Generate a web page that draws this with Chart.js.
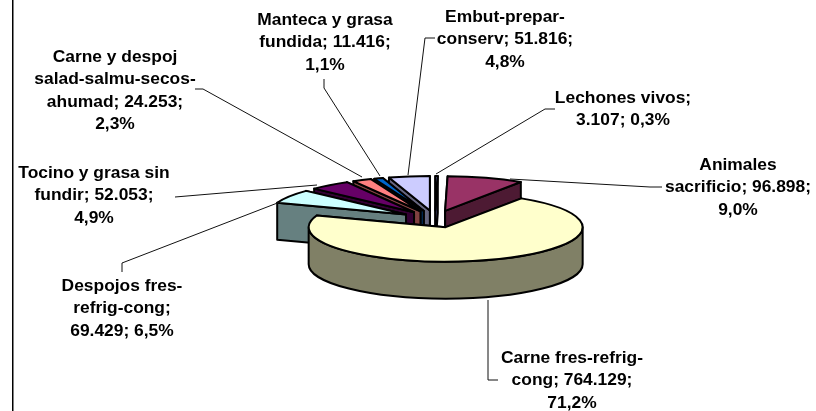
<!DOCTYPE html>
<html>
<head>
<meta charset="utf-8">
<title>Chart</title>
<script src="https://cdn.jsdelivr.net/npm/chart.js@4"></script>
<style>
html, body { margin: 0; padding: 0; background: #fff; overflow: hidden; }
canvas { display: block; }
</style>
</head>
<body>
<canvas id="pie3d" width="816" height="411"></canvas>
<script>
var categories = ['Lechones vivos', 'Animales sacrificio', 'Carne fres-refrig-cong', 'Despojos fres-refrig-cong',
	'Tocino y grasa sin fundir', 'Carne y despoj salad-salmu-secos-ahumad', 'Manteca y grasa fundida', 'Embut-prepar-conserv'];
var values = [3107, 96898, 764129, 69429, 52053, 24253, 11416, 51816];
var topColors = ['#9999FF', '#993366', '#FFFFCC', '#CCFFFF', '#660066', '#FF8080', '#0066CC', '#CCCCFF'];
var wallColors = ['#4D4D80', '#4D1A33', '#808066', '#668080', '#330033', '#804040', '#003366', '#666680'];

// wrapped text of each label, same order as categories
var labelLines = [
	['Lechones vivos;', '3.107; 0,3%'],
	['Animales', 'sacrificio; 96.898;', '9,0%'],
	['Carne fres-refrig-', 'cong; 764.129;', '71,2%'],
	['Despojos fres-', 'refrig-cong;', '69.429; 6,5%'],
	['Tocino y grasa sin', 'fundir; 52.053;', '4,9%'],
	['Carne y despoj', 'salad-salmu-secos-', 'ahumad; 24.253;', '2,3%'],
	['Manteca y grasa', 'fundida; 11.416;', '1,1%'],
	['Embut-prepar-', 'conserv; 51.816;', '4,8%']
];
var labelCenterX = [623, 738, 572, 122, 94, 115, 325, 505];
var labelFirstY = [98, 165, 358, 286, 173, 57, 20, 17];
var leaders = [
	[[555, 109], [545, 109], [436, 174]],
	[[662, 187], [650, 187], [510, 179]],
	[[498, 380], [488, 380], [488, 300]],
	[[122, 272], [122, 263], [280, 202]],
	[[175, 197], [317, 185]],
	[[195, 89], [203, 89], [362, 177]],
	[[324, 79], [324, 88], [380, 176]],
	[[435, 38], [425, 38], [408, 175]]
];

var squash = 0.252;
var depth = 37;
var explode = 34;
var lineHeight = 22.4;
var paintOrder = [7, 6, 5, 4, 3, 1, 0, 2];

function edgePoint(cx, cy, r, a)
{
	return [cx + Math.cos(a) * r, cy + Math.sin(a) * r * squash];
}

function sliceCentre(arc)
{
	var mid = (arc.startAngle + arc.endAngle) / 2;
	return [arc.x + Math.cos(mid) * explode, arc.y + Math.sin(mid) * explode * squash];
}

function radialWall(ctx, c, r, a, wall)
{
	var p = edgePoint(c[0], c[1], r, a);
	ctx.beginPath();
	ctx.moveTo(c[0], c[1]);
	ctx.lineTo(p[0], p[1]);
	ctx.lineTo(p[0], p[1] + depth);
	ctx.lineTo(c[0], c[1] + depth);
	ctx.closePath();
	ctx.fillStyle = wall;
	ctx.fill();
	ctx.stroke();
}

function frontWall(ctx, c, r, a0, a1, wall)
{
	// the outer wall only shows where the rim faces the viewer (0..PI on the canvas)
	for (var k = -1; k <= 1; k++) {
		var from = Math.max(a0, k * 2 * Math.PI);
		var to = Math.min(a1, k * 2 * Math.PI + Math.PI);
		if (to <= from) continue;
		ctx.beginPath();
		ctx.ellipse(c[0], c[1], r, r * squash, 0, from, to);
		ctx.ellipse(c[0], c[1] + depth, r, r * squash, 0, to, from, true);
		ctx.closePath();
		ctx.fillStyle = wall;
		ctx.fill();
		ctx.stroke();
	}
}

var pie3d = {
	id: 'pie3d',
	beforeDatasetsDraw: function(chart) {
		var ctx = chart.ctx;
		var arcs = chart.getDatasetMeta(0).data;
		ctx.lineWidth = 2;
		ctx.strokeStyle = '#000';
		ctx.lineJoin = 'round';
		paintOrder.forEach(function(i) {
			var arc = arcs[i];
			var c = sliceCentre(arc);
			var r = arc.outerRadius;
			var first = Math.sin(arc.startAngle) < Math.sin(arc.endAngle) ? arc.startAngle : arc.endAngle;
			var second = first === arc.startAngle ? arc.endAngle : arc.startAngle;
			radialWall(ctx, c, r, first, wallColors[i]);
			radialWall(ctx, c, r, second, wallColors[i]);
			frontWall(ctx, c, r, arc.startAngle, arc.endAngle, wallColors[i]);

			// top face comes from the library's own arc, flattened and pulled out
			ctx.save();
			ctx.translate(c[0] - arc.x, c[1]);
			ctx.scale(1, squash);
			ctx.translate(0, -arc.y);
			arc.draw(ctx);
			ctx.restore();

			ctx.beginPath();
			ctx.moveTo(c[0], c[1]);
			ctx.ellipse(c[0], c[1], r, r * squash, 0, arc.startAngle, arc.endAngle);
			ctx.closePath();
			ctx.stroke();
		});
		return false;
	},
	afterDraw: function(chart) {
		var ctx = chart.ctx;
		ctx.save();
		ctx.fillStyle = '#000';
		ctx.fillRect(12, 0, 1.5, 411);

		ctx.strokeStyle = '#111';
		ctx.lineWidth = 1;
		leaders.forEach(function(path) {
			ctx.beginPath();
			path.forEach(function(p, j) {
				if (j === 0) ctx.moveTo(p[0], p[1]);
				else ctx.lineTo(p[0], p[1]);
			});
			ctx.stroke();
		});

		ctx.font = 'bold 17.4px "Liberation Sans", Arial, sans-serif';
		ctx.textAlign = 'center';
		ctx.textBaseline = 'middle';
		labelLines.forEach(function(lines, i) {
			lines.forEach(function(line, j) {
				ctx.fillText(line, labelCenterX[i], labelFirstY[i] + j * lineHeight);
			});
		});
		ctx.restore();
	}
};

new Chart(document.getElementById('pie3d').getContext('2d'), {
	type: 'pie',
	data: {
		labels: categories,
		datasets: [{
			data: values,
			backgroundColor: topColors,
			borderWidth: 0
		}]
	},
	options: {
		responsive: false,
		animation: false,
		radius: 137,
		layout: { padding: { left: 54, top: 27 } },
		plugins: { legend: { display: false }, tooltip: { enabled: false } }
	},
	plugins: [pie3d]
});
</script>
</body>
</html>
